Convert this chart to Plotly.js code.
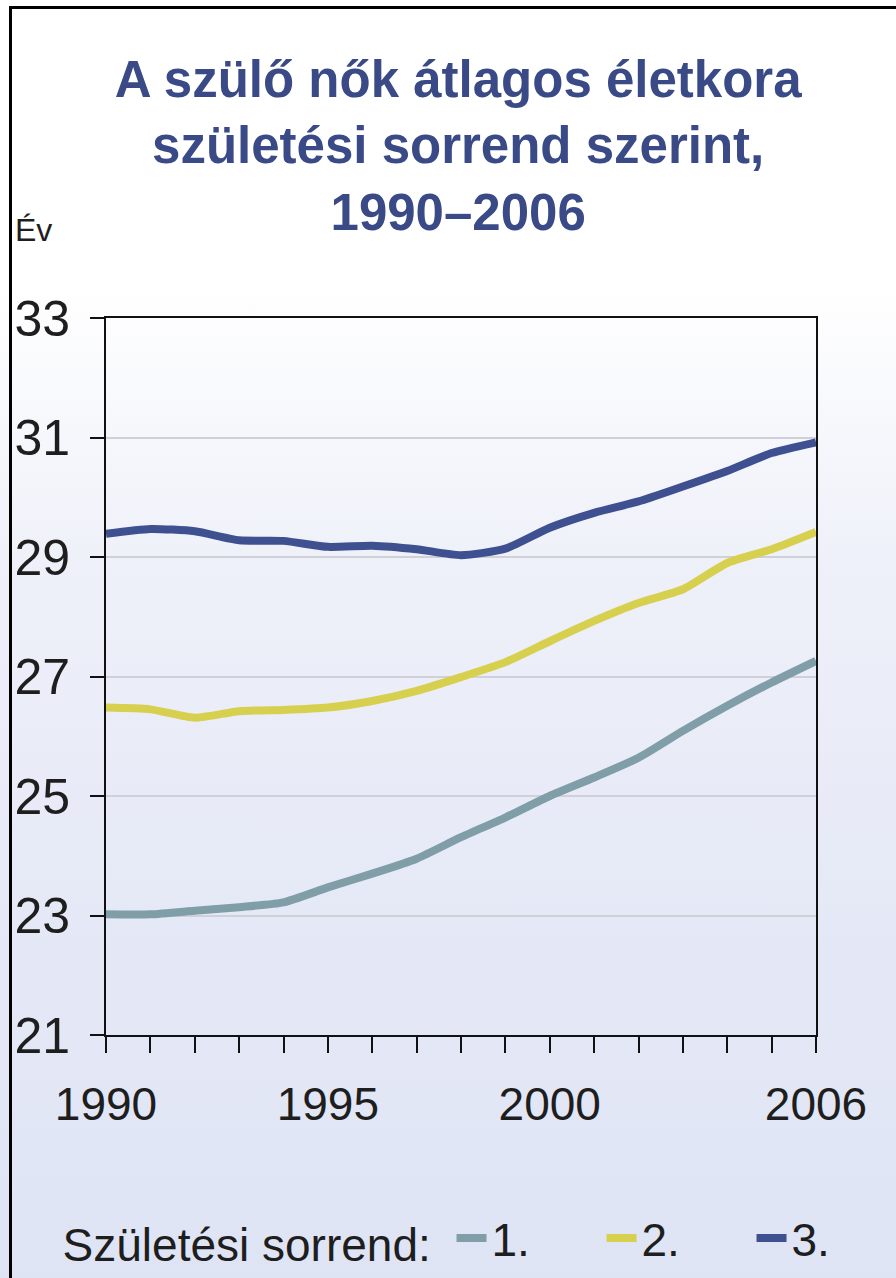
<!DOCTYPE html>
<html>
<head>
<meta charset="utf-8">
<script src="https://cdn.plot.ly/plotly-3.0.1.min.js"></script>
<style>
  html, body { margin: 0; padding: 0; }
  body {
    width: 896px; height: 1278px; overflow: hidden; position: relative;
    background: linear-gradient(to bottom, #ffffff 0%, #ffffff 22%, #eef0f9 45%, #e4e8f6 75%, #dfe4f5 100%);
  }
  #chart { width: 896px; height: 1278px; }
  #frame {
    position: absolute; left: 9px; top: 6px; width: 900px; height: 1300px;
    border-left: 3px solid #000; border-top: 3px solid #000; pointer-events: none;
  }
</style>
</head>
<body>
<div id="chart"></div>
<div id="frame"></div>
<script>
const years = [1990,1991,1992,1993,1994,1995,1996,1997,1998,1999,2000,2001,2002,2003,2004,2005,2006];
const firstBirth  = [23.02,23.02,23.08,23.14,23.22,23.47,23.70,23.95,24.31,24.64,25.00,25.31,25.64,26.09,26.51,26.90,27.26];
const secondBirth = [26.48,26.45,26.31,26.42,26.44,26.48,26.59,26.76,26.99,27.24,27.59,27.93,28.23,28.46,28.90,29.13,29.42];
const thirdBirth  = [29.39,29.47,29.43,29.28,29.27,29.17,29.19,29.13,29.03,29.14,29.49,29.74,29.93,30.18,30.44,30.74,30.92];
const seriesNames = ['1.', '2.', '3.'];
const xTickText = ['1990','','','','','1995','','','','','2000','','','','','','2006'];
const yTickVals = [21,23,25,27,29,31,33];

const FONT = 'Liberation Sans, Arial, Helvetica, sans-serif';
const colors = ['#7f9ea8', '#d6d04e', '#3e5090'];

const traces = [firstBirth, secondBirth, thirdBirth].map((ys, i) => ({
  x: years, y: ys, name: seriesNames[i], type: 'scatter', mode: 'lines',
  line: { color: colors[i], width: 8, shape: 'spline', smoothing: 0.6 },
  hoverinfo: 'skip'
}));

const layout = {
  width: 896, height: 1278,
  paper_bgcolor: 'rgba(0,0,0,0)', plot_bgcolor: 'rgba(0,0,0,0)',
  margin: { l: 106, r: 80, t: 318, b: 243, autoexpand: false },
  font: { family: FONT, color: '#1e1e1e' },
  title: {
    text: 'A szülő nők átlagos életkora<br>születési sorrend szerint,<br>1990–2006',
    font: { family: FONT, size: 51, color: '#3a4a86', weight: 'bold' },
    x: 0.496, xanchor: 'center', xref: 'paper',
    y: 1 - 97/1278, yanchor: 'top', yref: 'container'
  },
  xaxis: {
    range: [1990, 2006], tickvals: years, ticktext: xTickText,
    ticks: 'outside', ticklen: 16, tickwidth: 2, tickcolor: '#111',
    showline: true, linecolor: '#111', linewidth: 2, mirror: true,
    showgrid: false, zeroline: false,
    tickfont: { family: FONT, size: 46, color: '#1e1e1e' },
    ticklabelstandoff: 12, automargin: false
  },
  yaxis: {
    range: [21, 33], tickvals: yTickVals,
    ticks: 'outside', ticklen: 14, tickwidth: 2, tickcolor: '#111',
    showline: true, linecolor: '#111', linewidth: 2, mirror: true,
    showgrid: true, gridcolor: '#cfd0d8', gridwidth: 2, zeroline: false,
    tickfont: { family: FONT, size: 50, color: '#1e1e1e' },
    ticklabelstandoff: 10, automargin: false
  },
  showlegend: true,
  legend: {
    orientation: 'h', x: -0.064, xanchor: 'left',
    yref: 'container', y: 40/1278, yanchor: 'middle',
    font: { family: FONT, size: 46, color: '#1e1e1e' },
    title: { text: 'Születési sorrend: ', side: 'left', font: { family: FONT, size: 46, color: '#1e1e1e' } },
    bgcolor: 'rgba(0,0,0,0)', borderwidth: 0,
    entrywidth: 105, entrywidthmode: 'pixels', itemclick: false, itemdoubleclick: false
  },
  annotations: [{
    text: 'Év', xref: 'paper', yref: 'paper', x: -0.131, y: 1 + 88/717,
    xanchor: 'left', yanchor: 'middle', showarrow: false,
    font: { family: FONT, size: 32, color: '#1e1e1e' }
  }]
};

Plotly.newPlot('chart', traces, layout, { staticPlot: true, displayModeBar: false });
</script>
</body>
</html>
